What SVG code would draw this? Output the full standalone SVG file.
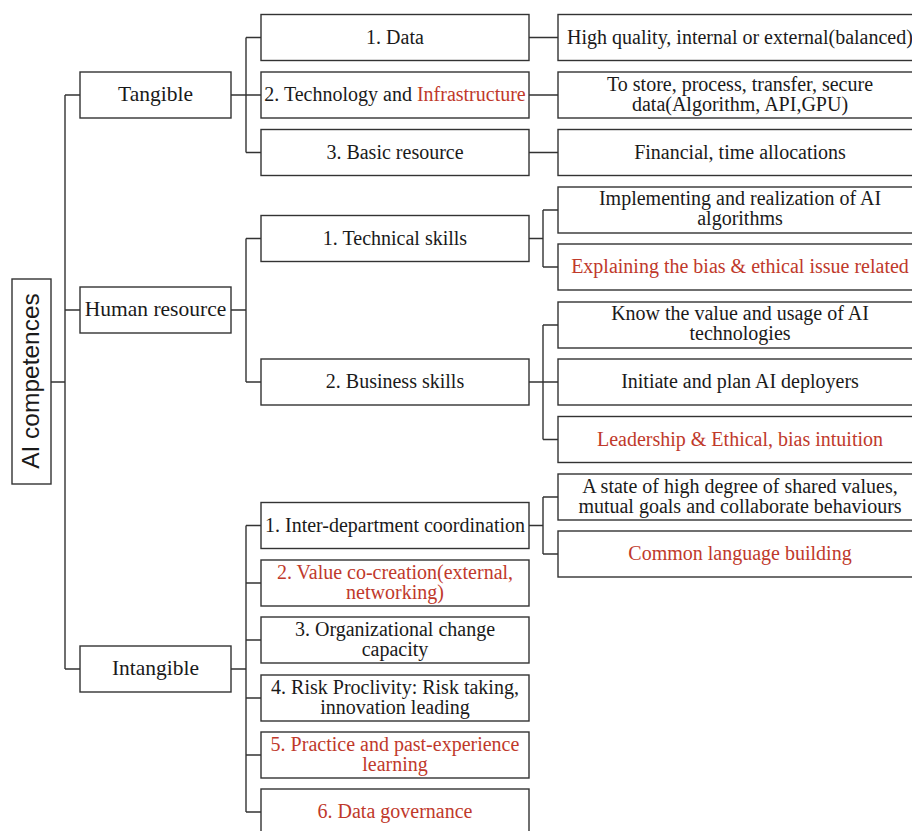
<svg xmlns="http://www.w3.org/2000/svg" width="912" height="831" viewBox="0 0 912 831">
<style>
.b{fill:#fff;stroke:#333;stroke-width:1.4}
.t{font-family:"Liberation Serif","Times New Roman",serif;font-size:20px;fill:#1a1a1a;text-anchor:middle}
.l1{font-size:21.5px}
.r{fill:#c0392b}
.c{fill:none;stroke:#333;stroke-width:1.4}
</style>
<rect width="912" height="831" fill="#fff"/>
<g id="connectors" class="c">
<path d="M51,382H65M65,95V669M65,95H80M65,310H80M65,669H80"/>
<path d="M231,95H261M246,37.5V152.5M246,37.5H261M246,152.5H261"/>
<path d="M231,310H246M246,238.5V382M246,238.5H261M246,382H261"/>
<path d="M231,669H246M246,525.5V812M246,525.5H261M246,583H261M246,640H261M246,698H261M246,755H261M246,812H261"/>
<path d="M529,37.5H558M529,95H558M529,152.5H558"/>
<path d="M529,238.5H543M543,210V267M543,210H558M543,267H558"/>
<path d="M529,382H558M543,325V439.5M543,325H558M543,439.5H558"/>
<path d="M529,525.5H543M543,497V554M543,497H558M543,554H558"/>
</g>
<g id="root">
<rect class="b" x="12" y="279" width="39" height="205"/>
<text transform="translate(39,381) rotate(-90)" style="font-family:'Liberation Sans',Arial,sans-serif;font-size:24.5px;fill:#1a1a1a;text-anchor:middle">AI competences</text>
</g>
<g id="tangible"><rect class="b" x="80" y="72" width="151" height="46"/><text class="t l1" x="155.5" y="100.5">Tangible</text></g>
<g id="human"><rect class="b" x="80" y="287" width="151" height="46"/><text class="t l1" x="155.5" y="315.5">Human resource</text></g>
<g id="intangible"><rect class="b" x="80" y="646" width="151" height="46"/><text class="t l1" x="155.5" y="674.5">Intangible</text></g>

<g id="data"><rect class="b" x="261" y="14.5" width="268" height="46"/><text class="t" x="395" y="43.5">1. Data</text></g>
<g id="tech"><rect class="b" x="261" y="72" width="268" height="46"/><text class="t" x="395" y="101">2. Technology and <tspan class="r">Infrastructure</tspan></text></g>
<g id="basic"><rect class="b" x="261" y="129.5" width="268" height="46"/><text class="t" x="395" y="158.5">3. Basic resource</text></g>
<g id="techskills"><rect class="b" x="261" y="215.5" width="268" height="46"/><text class="t" x="395" y="244.5">1. Technical skills</text></g>
<g id="busskills"><rect class="b" x="261" y="359" width="268" height="46"/><text class="t" x="395" y="388">2. Business skills</text></g>
<g id="interdept"><rect class="b" x="261" y="502.5" width="268" height="46"/><text class="t" x="395" y="531.5">1. Inter-department coordination</text></g>
<g id="value"><rect class="b" x="261" y="560" width="268" height="46"/><text class="t r" x="395" y="578.5">2. Value co-creation(external,</text><text class="t r" x="395" y="598.5">networking)</text></g>
<g id="orgchange"><rect class="b" x="261" y="617" width="268" height="46"/><text class="t" x="395" y="635.5">3. Organizational change</text><text class="t" x="395" y="655.5">capacity</text></g>
<g id="risk"><rect class="b" x="261" y="675" width="268" height="46"/><text class="t" x="395" y="693.5">4. Risk Proclivity: Risk taking,</text><text class="t" x="395" y="713.5">innovation leading</text></g>
<g id="practice"><rect class="b" x="261" y="732" width="268" height="46"/><text class="t r" x="395" y="750.5">5. Practice and past-experience</text><text class="t r" x="395" y="770.5">learning</text></g>
<g id="governance"><rect class="b" x="261" y="789" width="268" height="46"/><text class="t r" x="395" y="818">6. Data governance</text></g>

<g id="highquality"><rect class="b" x="558" y="14.5" width="364" height="46"/><text class="t" x="740" y="43.5">High quality, internal or external(balanced)</text></g>
<g id="tostore"><rect class="b" x="558" y="72" width="364" height="46"/><text class="t" x="740" y="90.5">To store, process, transfer, secure</text><text class="t" x="740" y="110.5">data(Algorithm, API,GPU)</text></g>
<g id="financial"><rect class="b" x="558" y="129.5" width="364" height="46"/><text class="t" x="740" y="158.5">Financial, time allocations</text></g>
<g id="implementing"><rect class="b" x="558" y="187" width="364" height="46"/><text class="t" x="740" y="204.5">Implementing and realization of AI</text><text class="t" x="740" y="224.5">algorithms</text></g>
<g id="explaining"><rect class="b" x="558" y="244" width="364" height="46"/><text class="t r" x="740" y="273">Explaining the bias &amp; ethical issue related</text></g>
<g id="know"><rect class="b" x="558" y="302" width="364" height="46"/><text class="t" x="740" y="319.5">Know the value and usage of AI</text><text class="t" x="740" y="339.5">technologies</text></g>
<g id="initiate"><rect class="b" x="558" y="359" width="364" height="46"/><text class="t" x="740" y="388">Initiate and plan AI deployers</text></g>
<g id="leadership"><rect class="b" x="558" y="416.5" width="364" height="46"/><text class="t r" x="740" y="445.5">Leadership &amp; Ethical, bias intuition</text></g>
<g id="astate"><rect class="b" x="558" y="474" width="364" height="46"/><text class="t" x="740" y="492.5">A state of high degree of shared values,</text><text class="t" x="740" y="512.5">mutual goals and collaborate behaviours</text></g>
<g id="common"><rect class="b" x="558" y="531" width="364" height="46"/><text class="t r" x="740" y="560">Common language building</text></g>
</svg>
